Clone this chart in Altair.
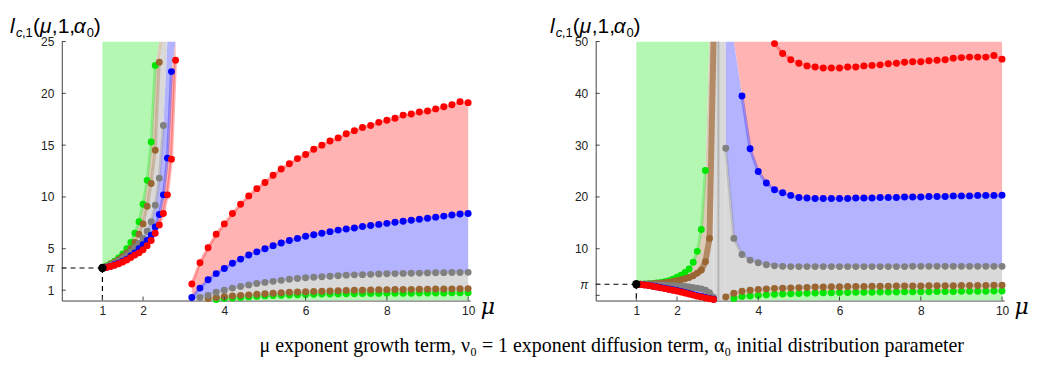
import altair as alt
import pandas as pd

PI = 3.14159

# ---------------- left panel (y up to 25) ----------------
L_TOP = 25
L_LB_MU = [1.0, 1.1, 1.2, 1.3, 1.4, 1.5, 1.6, 1.7, 1.8, 1.9, 2.0, 2.1, 2.2, 2.3, 2.4, 2.5, 2.6, 2.7, 2.8]
L_LB_GREEN = [3.14, 3.35, 3.55, 3.8, 4.1, 4.5, 5.0, 5.6, 6.5, 7.6, 9.3, 11.6, 15.3, 22.7, None, None, None, None, None]
L_LB_BROWN = [3.14, 3.3, 3.5, 3.7, 3.95, 4.25, 4.6, 5.0, 5.6, 6.4, 7.4, 9.1, 11.3, 14.5, 23.0, None, None, None, None]
L_LB_GRAY = [3.14, 3.25, 3.4, 3.6, 3.8, 4.05, 4.35, 4.7, 5.1, 5.5, 6.0, 6.7, 7.6, 9.2, 11.8, 16.9, None, None, None]
L_LB_BLUE = [3.14, 3.2, 3.3, 3.45, 3.6, 3.8, 4.0, 4.3, 4.6, 5.0, 5.4, 5.8, 6.3, 7.1, 8.3, 10.2, 13.75, 22.1, None]
L_LB_RED = [3.14, 3.18, 3.28, 3.4, 3.55, 3.72, 3.92, 4.15, 4.4, 4.6, 4.9, 5.3, 5.8, 6.5, 7.3, 8.4, 10.2, 13.65, 23.2]

L_RB_MU = [3.2, 3.4, 3.6, 3.8, 4.0, 4.2, 4.4, 4.6, 4.8, 5.0, 5.2, 5.4, 5.6, 5.8, 6.0, 6.2, 6.4, 6.6,
           6.8, 7.0, 7.2, 7.4, 7.6, 7.8, 8.0, 8.2, 8.4, 8.6, 8.8, 9.0, 9.2, 9.4, 9.6, 9.8, 10.0]
L_RB_RED = [1.6, 3.65, 5.1, 6.4, 7.4, 8.4, 9.3, 10.1, 10.8, 11.4, 12.1, 12.7, 13.2, 13.7, 14.1, 14.6, 15.0, 15.4,
            15.7, 16.1, 16.4, 16.7, 16.9, 17.2, 17.4, 17.6, 17.9, 18.0, 18.2, 18.3, 18.5, 18.7, 18.9, 19.2, 19.1]
L_RB_BLUE = [0.3, 1.2, 2.0, 2.6, 3.1, 3.6, 4.0, 4.4, 4.7, 5.0, 5.3, 5.55, 5.8, 6.0, 6.2, 6.35, 6.5, 6.65,
             6.8, 6.9, 7.0, 7.15, 7.25, 7.35, 7.45, 7.55, 7.65, 7.75, 7.85, 7.95, 8.05, 8.15, 8.25, 8.35, 8.4]
L_RB_GRAY = [None, 0.3, 0.5, 0.8, 1.0, 1.2, 1.35, 1.5, 1.65, 1.75, 1.85, 1.95, 2.05, 2.12, 2.2, 2.25, 2.3, 2.35,
             2.4, 2.45, 2.48, 2.5, 2.53, 2.56, 2.58, 2.6, 2.62, 2.64, 2.65, 2.67, 2.68, 2.69, 2.7, 2.71, 2.72]
L_RB_BROWN = [None, None, 0.2, 0.3, 0.4, 0.45, 0.5, 0.55, 0.6, 0.65, 0.7, 0.75, 0.8, 0.82, 0.85, 0.88, 0.9, 0.92,
              0.95, 0.97, 0.99, 1.0, 1.02, 1.04, 1.05, 1.06, 1.07, 1.08, 1.09, 1.1, 1.11, 1.12, 1.13, 1.14, 1.15]
L_RB_GREEN = [None, None, None, 0.1, 0.2, 0.25, 0.3, 0.35, 0.4, 0.45, 0.48, 0.5, 0.53, 0.56, 0.58, 0.6, 0.62, 0.63,
              0.64, 0.65, 0.66, 0.67, 0.68, 0.69, 0.7, 0.7, 0.71, 0.71, 0.72, 0.72, 0.73, 0.73, 0.74, 0.74, 0.75]

# ---------------- right panel (y up to 50) ----------------
R_TOP = 50
R_LB_MU = [1.0, 1.1, 1.2, 1.3, 1.4, 1.5, 1.6, 1.7, 1.8, 1.9, 2.0, 2.1, 2.2, 2.3, 2.4, 2.5, 2.6, 2.7, 2.8, 2.9]
R_LB_GREEN = [3.14, 3.17, 3.2, 3.25, 3.3, 3.4, 3.5, 3.65, 3.85, 4.1, 4.5, 4.9, 5.4, 6.1, 7.4, 9.5, 13.7, 25.1, None, None]
R_LB_BROWN = [3.14, 3.15, 3.17, 3.2, 3.25, 3.3, 3.35, 3.45, 3.55, 3.7, 3.85, 4.0, 4.2, 4.45, 4.8, 5.3, 5.9, 7.5, 12.0, None]
R_LB_GRAY = [3.14, 3.13, 3.12, 3.1, 3.07, 3.03, 3.0, 2.95, 2.9, 2.85, 2.8, 2.75, 2.7, 2.6, 2.5, 2.4, 2.25, 2.0, 1.5, 0.6]
R_LB_BLUE = [3.14, 3.11, 3.03, 2.95, 2.8, 2.66, 2.52, 2.38, 2.23, 2.08, 1.93, 1.74, 1.55, 1.35, 1.15, 0.95, 0.8, 0.6, 0.42, 0.25]
R_LB_RED = [3.14, 3.1, 3.0, 2.9, 2.75, 2.6, 2.45, 2.3, 2.15, 2.0, 1.85, 1.65, 1.45, 1.25, 1.05, 0.85, 0.7, 0.5, 0.35, 0.2]

R_RB_MU = L_RB_MU
R_RB_RED = [None, None, None, None, None, None, 49.6, 47.7, 46.5, 45.8, 45.3, 45.1, 44.9, 44.9, 44.9, 45.1, 45.1, 45.3,
            45.4, 45.5, 45.7, 45.8, 46.0, 46.1, 46.1, 46.3, 46.4, 46.5, 46.8, 46.9, 47.0, 47.0, 47.0, 47.3, 46.6]
R_RB_BLUE = [None, None, 39.5, 29.3, 24.9, 22.7, 21.4, 20.8, 20.3, 19.9, 19.8, 19.7, 19.7, 19.7, 19.7, 19.7, 19.8, 19.8,
             19.8, 19.9, 19.9, 19.9, 20.0, 20.0, 20.0, 20.1, 20.1, 20.1, 20.2, 20.2, 20.2, 20.3, 20.3, 20.3, 20.35]
R_RB_GRAY = [29.4, 12.0, 8.9, 7.8, 7.3, 6.9, 6.7, 6.6, 6.55, 6.55, 6.55, 6.55, 6.55, 6.55, 6.55, 6.55, 6.55, 6.55,
             6.55, 6.55, 6.55, 6.55, 6.55, 6.6, 6.6, 6.6, 6.6, 6.6, 6.6, 6.6, 6.6, 6.6, 6.6, 6.6, 6.6]
R_RB_BROWN = [0.7, 1.4, 1.8, 2.0, 2.15, 2.25, 2.35, 2.4, 2.45, 2.5, 2.55, 2.6, 2.6, 2.65, 2.65, 2.7, 2.7, 2.7,
              2.75, 2.75, 2.75, 2.8, 2.8, 2.8, 2.8, 2.85, 2.85, 2.85, 2.85, 2.9, 2.9, 2.9, 2.9, 2.95, 2.95]
R_RB_GREEN = [None, 0.4, 0.8, 0.9, 1.0, 1.1, 1.2, 1.25, 1.3, 1.35, 1.4, 1.45, 1.5, 1.5, 1.55, 1.55, 1.6, 1.6,
              1.6, 1.65, 1.65, 1.65, 1.7, 1.7, 1.7, 1.7, 1.75, 1.75, 1.75, 1.8, 1.8, 1.8, 1.8, 1.85, 1.85]
R_ASYM_MU = [3.02]

START_MU = [1.0]
START_L = [PI]

X_TICKS = [1, 2, 4, 6, 8, 10]
L_Y_TICKS = [1, PI, 5, 10, 15, 20, 25]
R_Y_TICKS = [1, PI, 10, 20, 30, 40, 50]

CAPTION = "μ exponent growth term, ν₀ = 1 exponent diffusion term, α₀ initial distribution parameter"

COLORS = {
    "green": "#00e600", "brown": "#996633", "gray": "#808080", "blue": "#0000ff", "red": "#ff0000",
    "f_green": "#b3f7b3", "f_brown": "#dccbb9", "f_gray": "#d9d9d9", "f_blue": "#b3b3ff", "f_red": "#ffb3b3",
    "t_brown": "#b38a66", "t_gray": "#a8a8a8",
}
CSCALE = alt.Scale(domain=list(COLORS.keys()), range=list(COLORS.values()))

PW, PH = 410, 260
XS = alt.Scale(domain=[0, 10.05], nice=False, zero=False)


def cap(v, d):
    return d if v is None else v


def add_points(rows, mu, vals, key, branch):
    for m, v in zip(mu, vals):
        if v is not None:
            rows.append({"mu": m, "v": v, "s": key, "b": branch})


def add_line(rows, mu, vals, key, branch, d=None):
    for m, v in zip(mu, vals):
        vv = cap(v, d)
        if vv is not None:
            rows.append({"mu": m, "v": vv, "s": key, "b": branch})


def add_band(rows, name, key, mu, lo, hi, lo_d, hi_d):
    for i, m in enumerate(mu):
        l = lo[i] if isinstance(lo, list) else lo
        h = hi[i] if isinstance(hi, list) else hi
        rows.append({"mu": m, "lo": cap(l, lo_d), "hi": cap(h, hi_d), "c": key, "band": name})


def title_layers(x0):
    pieces = [("l", 21, "italic", 0, 0), ("c", 13, "italic", 6, 4), (",1", 13, "normal", 12, 4),
              ("(", 21, "normal", 23, 0), ("μ", 21, "italic", 30, 0), (",1,", 21, "normal", 42, 0),
              ("α", 21, "italic", 64, 0), ("0", 13, "normal", 77, 4), (")", 21, "normal", 84, 0)]
    out = []
    for t, fs, st, dx, dy in pieces:
        out.append(alt.Chart(pd.DataFrame({"k": [0]})).mark_text(
            text=t, fontSize=fs, fontStyle=st, font="Liberation Sans", align="left",
            baseline="alphabetic", color="black").encode(x=alt.value(x0 + dx), y=alt.value(-9 + dy)))
    return out


def panel(pts, bands, lines, thick, ymax, yticks, hide_one, x0, asym=None):
    ys = alt.Scale(domain=[0, ymax], nice=False, zero=False)
    lbl = "abs(datum.value-3.14159)<0.01 ? 'π' : datum.label"
    if hide_one:
        lbl = "datum.value == 1 ? '' : (" + lbl + ")"
    xa = alt.Axis(values=X_TICKS, ticks=False, grid=False, domainColor="#444", labelFont="Liberation Sans",
                  labelFontSize=12, labelColor="#222", labelPadding=5, title="μ", titleFont="DejaVu Serif",
                  titleFontStyle="italic", titleFontSize=22, titleFontWeight="normal", titleX=PW + 10,
                  titleY=6, titleAlign="left", titleBaseline="middle", labelFlush=False)
    ya = alt.Axis(values=yticks, ticks=False, grid=False, domainColor="#444", labelFont="Liberation Sans",
                  labelFontSize=12, labelColor="#222", labelPadding=8, title=None, labelExpr=lbl,
                  labelFontStyle={"condition": {"test": "abs(datum.value-3.14159)<0.01", "value": "italic"},
                                  "value": "normal"})
    X = lambda f: alt.X(f, scale=XS, axis=xa)
    Y = lambda f: alt.Y(f, scale=ys, axis=ya)
    C = alt.Color("s:N", scale=CSCALE, legend=None)

    layers = []
    layers.append(alt.Chart(pd.DataFrame(bands)).mark_area(clip=True, orient="vertical").encode(
        x=X("mu:Q"), y=Y("lo:Q"), y2="hi:Q",
        color=alt.Color("c:N", scale=CSCALE, legend=None), detail="band:N"))
    if asym is not None:
        layers.append(alt.Chart(pd.DataFrame({"mu": asym})).mark_rule(color="#b5b5b5", strokeWidth=2).encode(
            x=X("mu:Q"), y=alt.value(0), y2=alt.value(PH)))
    layers.append(alt.Chart(pd.DataFrame(lines)).mark_line(clip=True, strokeWidth=3, opacity=0.3).encode(
        x=X("mu:Q"), y=Y("v:Q"), color=C, detail="b:N"))
    if thick:
        for key, w in [("t_gray", 6), ("blue", 6), ("red", 6), ("t_brown", 6)]:
            d = [r for r in thick if r["s"] == key]
            layers.append(alt.Chart(pd.DataFrame(d)).mark_line(clip=True, strokeWidth=w).encode(
                x=X("mu:Q"), y=Y("v:Q"), color=C))
    st = pd.DataFrame({"mu": START_MU, "v": START_L})
    layers.append(alt.Chart(st).mark_rule(color="black", strokeDash=[5, 4], strokeWidth=1.2).encode(
        x=X("mu:Q"), x2=alt.value(0), y=Y("v:Q")))
    layers.append(alt.Chart(st).mark_rule(color="black", strokeDash=[5, 4], strokeWidth=1.2).encode(
        x=X("mu:Q"), y=Y("v:Q"), y2=alt.value(PH)))
    layers.append(alt.Chart(pd.DataFrame(pts)).mark_circle(size=48, opacity=1).encode(
        x=X("mu:Q"), y=Y("v:Q"), color=C))
    layers.append(alt.Chart(st).mark_circle(size=70, opacity=1, color="black").encode(
        x=X("mu:Q"), y=Y("v:Q")))
    layers.append(alt.Chart(pd.DataFrame({"mu": X_TICKS})).mark_rule(color="#444").encode(
        x=X("mu:Q"), y=alt.value(PH), y2=alt.value(PH - 4)))
    layers.append(alt.Chart(pd.DataFrame({"v": yticks})).mark_rule(color="#444").encode(
        y=Y("v:Q"), x=alt.value(0), x2=alt.value(4)))
    layers += title_layers(x0)
    return alt.layer(*layers).properties(width=PW, height=PH)


SERIES = ["green", "brown", "gray", "blue", "red"]

# ---- left panel data
lp, ll, lb = [], [], []
for key, lbv, rbv in zip(SERIES, [L_LB_GREEN, L_LB_BROWN, L_LB_GRAY, L_LB_BLUE, L_LB_RED],
                         [L_RB_GREEN, L_RB_BROWN, L_RB_GRAY, L_RB_BLUE, L_RB_RED]):
    add_points(lp, L_LB_MU, lbv, key, key + "_l")
    add_points(lp, L_RB_MU, rbv, key, key + "_r")
    add_line(ll, L_LB_MU, lbv, key, key + "_l")
    add_line(ll, L_RB_MU, rbv, key, key + "_r")
add_band(lb, "lg", "f_green", L_LB_MU, L_LB_GREEN, L_TOP, L_TOP, L_TOP)
add_band(lb, "lbr", "f_brown", L_LB_MU, L_LB_BROWN, L_LB_GREEN, L_TOP, L_TOP)
add_band(lb, "lgy", "f_gray", L_LB_MU, L_LB_GRAY, L_LB_BROWN, L_TOP, L_TOP)
add_band(lb, "lbl", "f_blue", L_LB_MU, L_LB_BLUE, L_LB_GRAY, L_TOP, L_TOP)
add_band(lb, "lrd", "f_red", L_LB_MU, L_LB_RED, L_LB_BLUE, L_TOP, L_TOP)
add_band(lb, "rrd", "f_red", L_RB_MU, L_RB_BLUE, L_RB_RED, 0, 0)
add_band(lb, "rbl", "f_blue", L_RB_MU, L_RB_GRAY, L_RB_BLUE, 0, 0)
add_band(lb, "rgy", "f_gray", L_RB_MU, L_RB_BROWN, L_RB_GRAY, 0, 0)
add_band(lb, "rbr", "f_brown", L_RB_MU, L_RB_GREEN, L_RB_BROWN, 0, 0)
add_band(lb, "rgr", "f_green", L_RB_MU, 0, L_RB_GREEN, 0, 0)

# ---- right panel data
rp, rl, rb, rt = [], [], [], []
for key, lbv, rbv in zip(SERIES, [R_LB_GREEN, R_LB_BROWN, R_LB_GRAY, R_LB_BLUE, R_LB_RED],
                         [R_RB_GREEN, R_RB_BROWN, R_RB_GRAY, R_RB_BLUE, R_RB_RED]):
    add_points(rp, R_LB_MU, lbv, key, key + "_l")
    add_points(rp, R_RB_MU, rbv, key, key + "_r")
    add_line(rl, R_LB_MU, lbv, key, key + "_l")
    add_line(rl, R_RB_MU, rbv, key, key + "_r")
add_line(rt, R_LB_MU, R_LB_GRAY, "t_gray", "tg")
add_line(rt, R_LB_MU, R_LB_BLUE, "blue", "tb")
add_line(rt, R_LB_MU, R_LB_RED, "red", "tr")
add_line(rt, R_LB_MU, R_LB_BROWN, "t_brown", "tbr", R_TOP)
add_band(rb, "lg", "f_green", R_LB_MU, R_LB_GREEN, R_TOP, R_TOP, R_TOP)
add_band(rb, "lbr", "f_brown", R_LB_MU, R_LB_BROWN, R_LB_GREEN, R_TOP, R_TOP)
add_band(rb, "lgy", "f_gray", R_LB_MU, R_LB_GRAY, R_LB_BROWN, R_TOP, R_TOP)
add_band(rb, "lbl", "f_blue", R_LB_MU, R_LB_BLUE, R_LB_GRAY, 0, R_TOP)
add_band(rb, "lrd", "f_red", R_LB_MU, R_LB_RED, R_LB_BLUE, 0, R_TOP)
add_band(rb, "cgy", "f_gray", [R_LB_MU[-1], R_RB_MU[0]], 0, R_TOP, 0, R_TOP)
add_band(rb, "rrd", "f_red", R_RB_MU, R_RB_BLUE, R_TOP, R_TOP, R_TOP)
add_band(rb, "rbl", "f_blue", R_RB_MU, R_RB_GRAY, R_RB_BLUE, 0, R_TOP)
add_band(rb, "rgy", "f_gray", R_RB_MU, R_RB_BROWN, R_RB_GRAY, 0, R_TOP)
add_band(rb, "rbr", "f_brown", R_RB_MU, R_RB_GREEN, R_RB_BROWN, 0, 0)
add_band(rb, "rgr", "f_green", R_RB_MU, 0, R_RB_GREEN, 0, 0)

left = panel(lp, lb, ll, None, L_TOP, L_Y_TICKS, False, -52)
right = panel(rp, rb, rl, rt, R_TOP, R_Y_TICKS, True, -46, R_ASYM_MU)

chart = alt.hconcat(left, right, spacing=55).properties(
    title=alt.TitleParams(text=CAPTION, orient="bottom", anchor="middle", font="Liberation Serif",
                          fontSize=20, fontWeight="normal", color="black", offset=19, dx=93),
    padding={"left": 2, "top": 7, "right": 0, "bottom": 0},
).configure_view(stroke=None)

chart.save("out.html", embed_options={"renderer": "svg", "actions": False})
